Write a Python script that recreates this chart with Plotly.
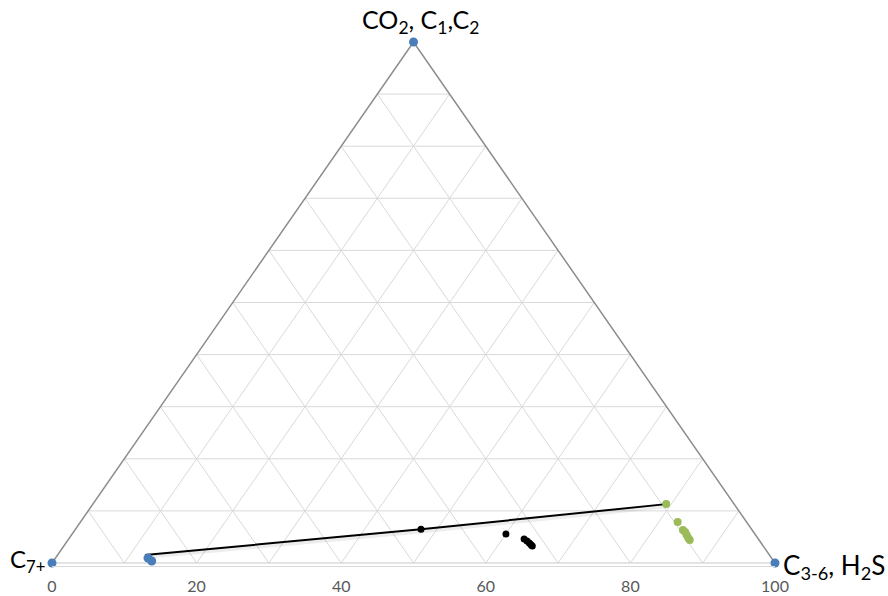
import math
import plotly.graph_objects as go

# Compositions in mol %:
#   light  = CO2, C1, C2   (top apex)
#   inter  = C3-6, H2S     (bottom-right apex)
#   heavy  = C7+           (bottom-left apex, = 100 - light - inter)

# Pure-component apexes
apex_light = [100, 0, 0]
apex_inter = [0, 100, 0]

# Reservoir oil
oil_light = [0.96, 0.38]
oil_inter = [12.8, 13.6]

# Dilution line from oil to injection gas
tie_light = [1.54, 6.47, 11.3]
tie_inter = [12.1, 47.8, 79.3]

# Mixtures
mix_light = [6.47, 5.57, 4.6, 4.2, 3.84, 3.5, 3.26]
mix_inter = [47.8, 60.0, 63.0, 63.6, 64.1, 64.5, 64.8]

# Injection gases
gas_light = [11.3, 7.87, 6.33, 5.95, 5.37, 4.8, 4.41]
gas_inter = [79.3, 82.6, 84.1, 84.6, 85.1, 85.6, 86.0]

tick_vals = [0, 20, 40, 60, 80, 100]
tick_text = ["0", "20", "40", "60", "80", "100"]

H = math.sqrt(3) / 2


def to_xy(light, inter):
    xs = [i + l / 2 for l, i in zip(light, inter)]
    ys = [l * H for l in light]
    return xs, ys


fig = go.Figure()

# Ternary grid every 10 %
gx, gy = [], []
for k in range(10, 100, 10):
    # constant light fraction (horizontal)
    xs, ys = to_xy([k, k], [0, 100 - k])
    gx += xs + [None]; gy += ys + [None]
    # constant intermediate fraction
    xs, ys = to_xy([0, 100 - k], [k, k])
    gx += xs + [None]; gy += ys + [None]
    # constant heavy fraction
    xs, ys = to_xy([0, 100 - k], [100 - k, 0])
    gx += xs + [None]; gy += ys + [None]
fig.add_trace(go.Scatter(x=gx, y=gy, mode="lines",
                         line=dict(color="#d9d9d9", width=1),
                         hoverinfo="skip", showlegend=False))

# Triangle outline
bx, by = to_xy([0, 0], [0, 100])
fig.add_trace(go.Scatter(x=bx, y=by, mode="lines",
                         line=dict(color="#c8c8c8", width=1),
                         hoverinfo="skip", showlegend=False))
ex, ey = to_xy([0, 100, 0], [0, 0, 100])
fig.add_trace(go.Scatter(x=ex, y=ey, mode="lines",
                         line=dict(color="#8c8c8c", width=1.5),
                         hoverinfo="skip", showlegend=False))

# Dilution line (soft shadow + line)
tx, ty = to_xy(tie_light, tie_inter)
fig.add_trace(go.Scatter(x=tx, y=[v - 0.35 for v in ty], mode="lines",
                         line=dict(color="rgba(0,0,0,0.07)", width=4),
                         hoverinfo="skip", showlegend=False))
fig.add_trace(go.Scatter(x=tx, y=ty, mode="lines",
                         line=dict(color="#000000", width=2),
                         showlegend=False))

# Apexes and oil
ax_, ay_ = to_xy(apex_light + oil_light, apex_inter + oil_inter)
fig.add_trace(go.Scatter(x=ax_, y=ay_, mode="markers",
                         marker=dict(color="#4a7ebb", size=9),
                         cliponaxis=False, showlegend=False))

# Mixtures
mx, my = to_xy(mix_light, mix_inter)
fig.add_trace(go.Scatter(x=mx, y=my, mode="markers",
                         marker=dict(color="#000000", size=7),
                         showlegend=False))

# Injection gases
sx, sy = to_xy(gas_light, gas_inter)
fig.add_trace(go.Scatter(x=sx, y=sy, mode="markers",
                         marker=dict(color="#9bbb59", size=8),
                         showlegend=False))

fam = "Lato, 'Open Sans', sans-serif"
fig.add_annotation(x=50.9, y=86.6, xref="x", yref="y",
                   text="CO<sub>2</sub>, C<sub>1</sub>,C<sub>2</sub>",
                   showarrow=False, xanchor="center", yanchor="bottom",
                   yshift=2, font=dict(family=fam, size=25, color="#000"))
fig.add_annotation(x=0, y=0, xref="x", yref="y",
                   text="C<sub>7+</sub>",
                   showarrow=False, xanchor="right", yanchor="middle",
                   xshift=-4, yshift=2, font=dict(family=fam, size=24, color="#000"))
fig.add_annotation(x=100, y=0, xref="x", yref="y",
                   text="C<sub>3-6</sub>, H<sub>2</sub>S",
                   showarrow=False, xanchor="left", yanchor="middle",
                   xshift=6, yshift=-4, font=dict(family=fam, size=26, color="#000"))

fig.update_layout(
    width=888, height=596,
    margin=dict(l=52, r=113, t=42, b=30, autoexpand=False),
    paper_bgcolor="#ffffff", plot_bgcolor="#ffffff",
    showlegend=False,
    xaxis=dict(range=[0, 100], tickvals=tick_vals, ticktext=tick_text,
               showgrid=False, zeroline=False, showline=True,
               linecolor="#d9d9d9", linewidth=1, ticks="",
               ticklabelstandoff=6, automargin=False,
               tickfont=dict(family=fam, size=16, color="#595959"),
               fixedrange=True),
    yaxis=dict(range=[-0.5, 100 * H], visible=False, fixedrange=True,
               automargin=False),
)

fig.write_html("out.html")
